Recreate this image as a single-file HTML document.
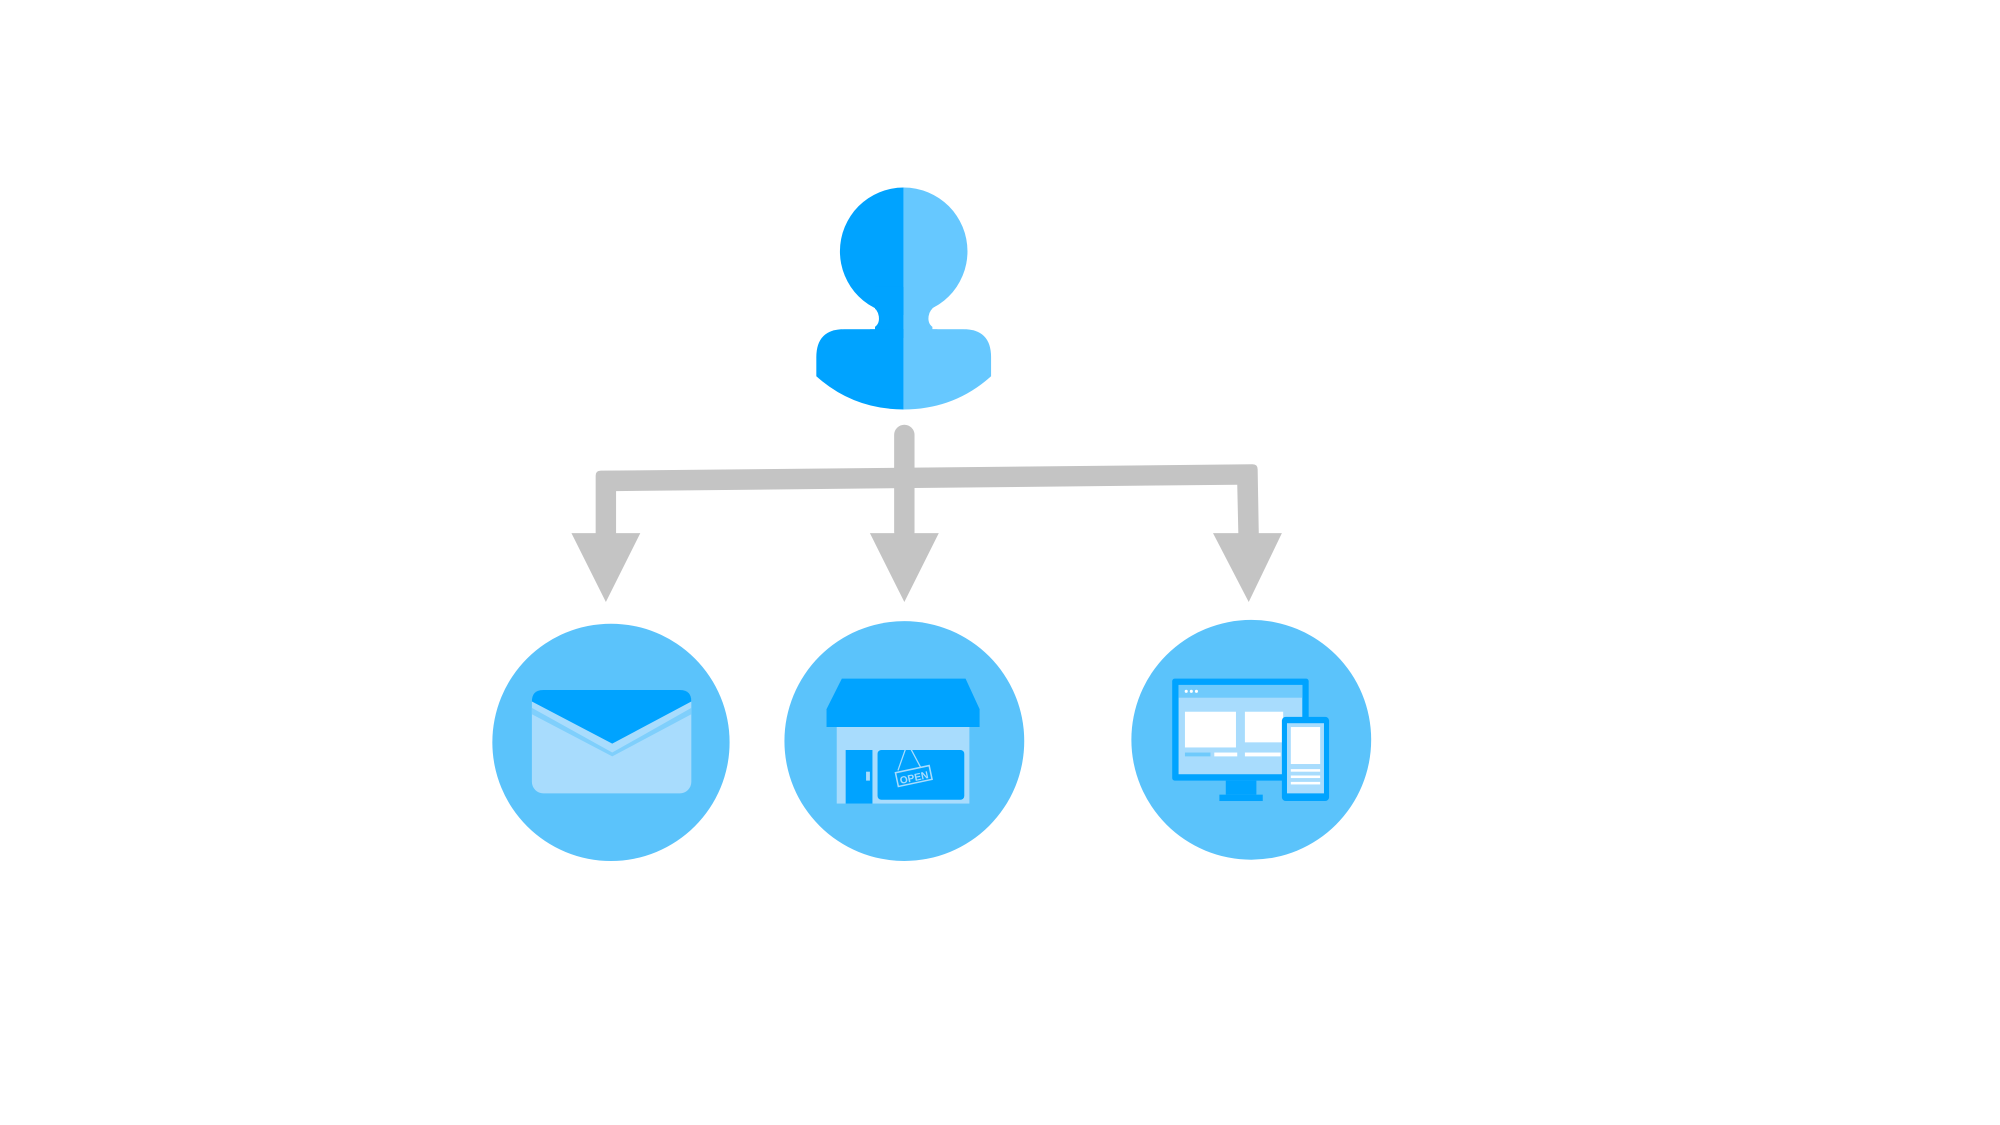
<!DOCTYPE html>
<html><head><meta charset="utf-8"><style>html,body{margin:0;padding:0;background:#fff;width:2000px;height:1125px;overflow:hidden}svg{display:block}</style></head>
<body>
<svg width="2000" height="1125" viewBox="0 0 1568 882" xmlns="http://www.w3.org/2000/svg">
<defs>
<clipPath id="L"><rect x="0" y="0" width="708.5" height="882"/></clipPath>
<clipPath id="R"><rect x="708.5" y="0" width="900" height="882"/></clipPath>
<g id="person">
<ellipse cx="708.5" cy="197" rx="50" ry="50"/>
<rect x="686" y="225" width="45" height="40"/>
<path d="M640 280 Q640 258 662 258 L755 258 Q777 258 777 280 L777 295 Q748 321 708.5 321 Q669 321 640 295 Z"/>
</g>
</defs>
<g clip-path="url(#L)" fill="#00a3ff"><use href="#person"/></g>
<g clip-path="url(#R)" fill="#66c8ff"><use href="#person"/></g>
<path d="M660 258 L682 258 Q690 256 689 248 Q688 242 683 240 L660 240 Z" fill="#fff"/>
<path d="M757 258 L735 258 Q727 256 728 248 Q729 242 734 240 L757 240 Z" fill="#fff"/>

<g fill="#c4c4c4">
<rect x="701" y="333" width="16" height="92" rx="8"/>
<path d="M471 369 L982 364 Q986 364 986 368 L987 425 L971 425 L970 380 L483 385 L483 425 L467 425 L467 373 Q467 369 471 369 Z"/>
<polygon points="448,418 502,418 475,472"/>
<polygon points="682,418 736,418 709,472"/>
<polygon points="951,418 1005,418 979,472"/>
</g>

<circle cx="479" cy="582" r="93" fill="#5bc3fb"/>
<circle cx="709" cy="581" r="94" fill="#5bc3fb"/>
<circle cx="981" cy="580" r="94" fill="#5bc3fb"/>

<rect x="417" y="541" width="125" height="81" rx="9" fill="#a8dcfd"/>
<polygon points="417,555 480,590 542,555 542,560 480,593 417,560" fill="#7fcffc"/>
<path d="M426 541 L533 541 Q542 541 542 550 L480 583 L417 550 Q417 541 426 541 Z" fill="#00a3ff"/>

<rect x="656" y="565" width="104" height="65" fill="#a8dcfd"/>
<path d="M660 532 L757 532 L768 556 L768 570 L648 570 L648 556 Z" fill="#00a3ff"/>
<rect x="663" y="588" width="21" height="42" fill="#00a3ff"/>
<rect x="679" y="605" width="3" height="7" fill="#a8dcfd"/>
<rect x="688" y="588" width="68" height="39" rx="3" fill="#00a3ff"/>
<path d="M710 587 L704 604 M714 587 L722 602" stroke="#a8dcfd" stroke-width="1"/>
<g transform="rotate(-12 716 609)"><rect x="703" y="603" width="27" height="11" fill="none" stroke="#a8dcfd" stroke-width="1.2"/><text x="716.5" y="612.5" font-family="Liberation Sans, sans-serif" font-size="8" font-weight="bold" fill="#a8dcfd" text-anchor="middle">OPEN</text></g>

<rect x="919" y="532" width="107" height="80" rx="2" fill="#00a3ff"/>
<rect x="924" y="537" width="97" height="70" fill="#a8dcfd"/>
<rect x="924" y="537" width="97" height="10" fill="#6fcafc"/>
<circle cx="930" cy="542" r="1.2" fill="#fff"/><circle cx="934" cy="542" r="1.2" fill="#fff"/><circle cx="938" cy="542" r="1.2" fill="#fff"/>
<rect x="929" y="558" width="40" height="28" fill="#fff"/>
<rect x="976" y="558" width="30" height="24" fill="#fff"/>
<rect x="929" y="590" width="20" height="3" fill="#6fcafc"/>
<rect x="952" y="590" width="18" height="3" fill="#fff"/>
<rect x="976" y="590" width="28" height="3" fill="#fff"/>
<rect x="961" y="612" width="24" height="11" fill="#00a3ff"/>
<rect x="956" y="623" width="34" height="5" fill="#00a3ff"/>
<rect x="1005" y="562" width="37" height="66" rx="3" fill="#00a3ff"/>
<rect x="1009" y="567" width="29" height="55" fill="#a8dcfd"/>
<rect x="1012" y="570" width="23" height="29" fill="#fff"/>
<rect x="1012" y="603" width="23" height="2" fill="#fff"/>
<rect x="1012" y="608" width="23" height="2" fill="#fff"/>
<rect x="1012" y="613" width="23" height="2" fill="#fff"/>
</svg>
</body></html>
